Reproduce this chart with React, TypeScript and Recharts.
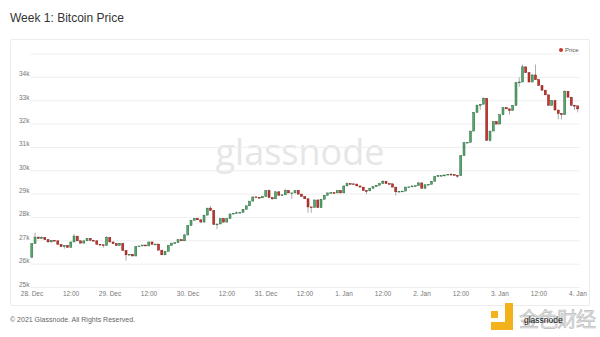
import React from 'react';
import { ComposedChart, Bar, XAxis, YAxis, CartesianGrid } from 'recharts';

const dayLabels = ['28. Dec', '29. Dec', '30. Dec', '31. Dec', '1. Jan', '2. Jan', '3. Jan', '4. Jan'];
const yTicks = [25000, 26000, 27000, 28000, 29000, 30000, 31000, 32000, 33000, 34000, 35000];

// hourly BTC candles, 28 Dec 00:00 -> 4 Jan 00:00
const firstOpen = 26300;
const closes = [
  26880, 27160, 27100, 27150, 27050, 26950, 27020, 27000, 26850, 26750, 26800, 26720,
  26950, 27200, 27000, 26900, 27000, 27100, 27020, 27000, 26850, 26830, 26800, 27150,
  26950, 26880, 26800, 26890, 26580, 26400, 26420, 26350, 26750, 26780, 26820, 26780,
  26950, 26850, 26860, 26600, 26400, 26550, 26800, 26900, 26920, 27050, 27000, 27250,
  27650, 27880, 27960, 27900, 27800, 28100, 28400, 28300, 27700, 27720, 27950, 27800,
  27950, 28150, 28180, 28200, 28220, 28350, 28500, 28700, 28880, 28860, 28840, 28900,
  29150, 28850, 28800, 29100, 28950, 28970, 29150, 29050, 29050, 29150, 29000, 28900,
  28800, 28450, 28430, 28750, 28420, 28780, 28950, 29050, 29060, 29050, 29150, 29050,
  29350, 29450, 29440, 29430, 29350, 29300, 29150, 29140, 29250, 29320, 29380, 29450,
  29550, 29450, 29440, 29300, 29100, 29120, 29130, 29300, 29310, 29350, 29360, 29480,
  29250, 29400, 29420, 29550, 29750, 29800, 29800, 29820, 29850, 29830, 29800, 29790,
  30650, 31200, 31220, 31700, 32500, 32800, 32850, 33100, 31300, 31700, 32100, 32000,
  32400, 32700, 32650, 32580, 32800, 33780, 33800, 34450, 34200, 33800, 34100, 33900,
  33650, 33450, 33250, 32800, 33000, 32600, 32450, 32400, 33400, 33150, 32800, 32780,
  32650,
];

// [hour, price] wick extremes that stick out of the bodies
const highWicks: [number, number][] = [
  [1, 27350], [3, 27200], [13, 27300], [23, 27200], [47, 27300], [55, 28500], [63, 28260],
  [73, 29200], [78, 29220], [97, 29500], [108, 29600], [119, 29520], [129, 29900],
  [137, 32850], [139, 33150], [150, 34000], [151, 34550], [154, 34150], [155, 34550],
  [164, 33450], [168, 32720],
];
const lowWicks: [number, number][] = [
  [0, 26250], [10, 26660], [22, 26700], [29, 26150], [44, 26870], [57, 27500], [74, 28750],
  [80, 28800], [85, 28200], [86, 28200], [103, 29000], [112, 28950], [127, 29750],
  [131, 29700], [138, 32600], [141, 31250], [147, 32400], [150, 33600], [162, 32200],
  [163, 32200], [167, 32600], [168, 32500],
];

const data = closes.map((close, i) => {
  const open = i === 0 ? firstOpen : closes[i - 1];
  const hw = highWicks.find((w) => w[0] === i);
  const lw = lowWicks.find((w) => w[0] === i);
  const high = Math.max(open, close, hw ? hw[1] : 0);
  const low = Math.min(open, close, lw ? lw[1] : Infinity);
  return { i, open, close, high, low, range: [low, high] };
});

const Candle = (props: any) => {
  const { x, y, width, height } = props;
  const p = props.payload || props;
  const { open, close, high, low } = p;
  const up = close >= open;
  const h = Math.abs(height || 0);
  const span = high - low;
  const ratio = span > 0 ? h / span : 0;
  const top = y + (high - Math.max(open, close)) * ratio;
  const bottom = y + (high - Math.min(open, close)) * ratio;
  const cx = x + width / 2;
  return (
    <g>
      <line x1={cx} x2={cx} y1={y} y2={y + h} stroke="#888" strokeWidth={0.7} />
      <rect
        x={x}
        y={top}
        width={width}
        height={Math.max(bottom - top, 0.8)}
        fill={up ? '#56a76c' : '#c8352f'}
        stroke={up ? '#2e6b40' : '#7d1d19'}
        strokeWidth={0.5}
      />
    </g>
  );
};

const YTick = ({ x, y, payload }: any) =>
  payload.value >= 35000 ? null : (
    <text x={x} y={y - 1} textAnchor="end" fontSize={6.5} fill="#777">
      {payload.value / 1000}k
    </text>
  );

const XTick = ({ x, y, payload }: any) => (
  <text x={x} y={y + 8.5} textAnchor="middle" fontSize={6.5} fill="#777">
    {payload.value % 24 === 0 ? dayLabels[payload.value / 24] : '12:00'}
  </text>
);

export default function App() {
  return (
    <div
      style={{
        position: 'absolute',
        left: 0,
        top: 0,
        width: 600,
        height: 337,
        background: '#fff',
        fontFamily: '"Liberation Sans", Arial, sans-serif',
        overflow: 'hidden',
      }}
    >
      <div style={{ position: 'absolute', left: 10, top: 11, fontSize: 12, color: '#333' }}>
        Week 1: Bitcoin Price
      </div>
      <div
        style={{
          position: 'absolute',
          left: 10,
          top: 39,
          width: 580,
          height: 267,
          border: '1px solid #ececec',
          borderRadius: 2,
          boxSizing: 'border-box',
        }}
      />
      <div
        style={{
          position: 'absolute',
          left: 0,
          width: 600,
          top: 127,
          textAlign: 'center',
          fontSize: 36,
          color: '#e6e6e6',
          fontFamily: '"Open Sans", Arial, sans-serif',
        }}
      >
        glassnode
      </div>
      <div style={{ position: 'absolute', left: 0, top: 0 }}>
        <ComposedChart
          width={600}
          height={337}
          data={data}
          margin={{ top: 54, right: 20.4, bottom: 35.5, left: 8.4 }}
          barCategoryGap="12%"
        >
          <CartesianGrid vertical={false} stroke="#eeeeee" />
          <XAxis
            dataKey="i"
            interval={11}
            tickLine={false}
            axisLine={false}
            tickSize={0}
            tickMargin={0}
            height={14}
            tick={<XTick />}
          />
          <YAxis
            domain={[25000, 35000]}
            ticks={yTicks}
            allowDataOverflow
            tickLine={false}
            axisLine={false}
            tickSize={0}
            tickMargin={1}
            width={22}
            tick={<YTick />}
          />
          <Bar dataKey="range" shape={<Candle />} isAnimationActive={false} />
        </ComposedChart>
      </div>
      <div style={{ position: 'absolute', left: 559, top: 47, display: 'flex', alignItems: 'center', fontSize: 6, color: '#555' }}>
        <span style={{ width: 4, height: 4, borderRadius: 2, background: '#c8352f', marginRight: 2, display: 'inline-block' }} />
        Price
      </div>
      <div style={{ position: 'absolute', left: 10, top: 316, fontSize: 7, color: '#666' }}>
        © 2021 Glassnode. All Rights Reserved.
      </div>
      <div style={{ position: 'absolute', left: 491, top: 311, width: 7, height: 7, background: '#f3b21b' }} />
      <div style={{ position: 'absolute', left: 505, top: 303, width: 8, height: 27, background: '#f3b21b' }} />
      <div style={{ position: 'absolute', left: 491, top: 322, width: 22, height: 8, background: '#f3b21b' }} />
      <div
        style={{
          position: 'absolute',
          left: 519,
          top: 304,
          fontSize: 20,
          color: '#e2e2e2',
          WebkitTextStroke: '0.6px #bdbdbd',
          fontFamily: '"Noto Sans CJK SC", sans-serif',
          letterSpacing: -1,
        }}
      >
        金色财经
      </div>
      <div style={{ position: 'absolute', left: 524, top: 315, fontSize: 8.5, color: '#111' }}>glassnode</div>
    </div>
  );
}
